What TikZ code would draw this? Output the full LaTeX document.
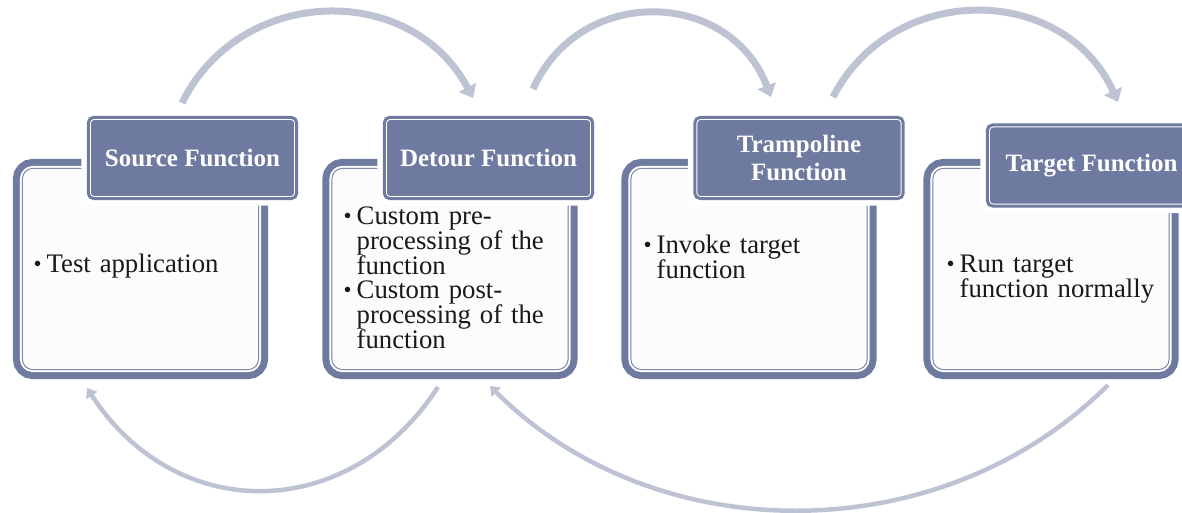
\documentclass[tikz,border=0pt]{standalone}
\usepackage{fontspec}
\setmainfont{Liberation Serif}
\usetikzlibrary{arrows.meta}

\definecolor{stageblue}{HTML}{6F7AA0}
\definecolor{flowgray}{HTML}{BEC3D4}

\newcommand{\bodyfont}{\fontsize{7.6}{7}\selectfont}
\newcommand{\headfont}{\fontsize{7.1}{7.7}\selectfont\bfseries}
% bullet line with hanging indent, breaks by \newline
\newcommand{\itemdot}[1]{\hangindent=0.13cm\hangafter=1\noindent
    \makebox[0.13cm][l]{\raisebox{0.4pt}{\fontsize{6.5}{7}\selectfont\textbullet}}#1\par}

\begin{document}
\begin{tikzpicture}[x=0.01cm, y=-0.01cm,   % one unit = one pixel, y down
    stagebox/.style={
        rectangle, rounded corners=0.1cm,
        minimum width=2.35cm, minimum height=2cm,
        preaction={draw=stageblue, line width=0.2cm},
        preaction={draw=white, line width=0.06cm},
        preaction={draw=stageblue, line width=0.02cm},
        fill=black!1
    },
    stagehead/.style={
        rectangle, rounded corners=0.05cm,
        minimum width=2.08cm, minimum height=0.81cm, inner sep=0pt,
        preaction={draw=white, line width=0.14cm},
        fill=stageblue, draw=white, line width=0.05cm,
        postaction={draw=stageblue, line width=0.03cm},
        text=white, font=\headfont, align=center
    },
    stagetext/.style={
        anchor=base west, inner sep=0pt, text width=2.3cm,
        align=left, font=\bodyfont, text=black!90
    },
    toparrow/.style={
        draw=flowgray, line width=0.07cm,
        -{Triangle[length=0.12cm, width=0.19cm]}
    },
    backarrow/.style={
        draw=flowgray, line width=0.045cm,
        -{Triangle[length=0.09cm, width=0.13cm]}
    }
]
    \useasboundingbox (0,0) rectangle (1182,513);

    % 1. Source
    \node [stagebox] (srcbox) at (140.5,269) {};
    \node [stagehead] (srchead) at (192.5,158) {Source Function};
    \node [stagetext] (srctext) at (33,273) {\itemdot{Test application}};

    % 2. Detour
    \node [stagebox] (detbox) at (450,269) {};
    \node [stagehead] (dethead) at (488.5,158) {Detour Function};
    \node [stagetext] (dettext) at (343,225) {%
        \itemdot{Custom pre-\newline processing of the\newline function}%
        \itemdot{Custom post-\newline processing of the\newline function}};

    % 3. Trampoline
    \node [stagebox] (trabox) at (749,269) {};
    \node [stagehead] (trahead) at (799,158) {Trampoline\\Function};
    \node [stagetext] (tratext) at (643,254) {\itemdot{Invoke target\newline function}};

    % 4. Target
    \node [stagebox] (tarbox) at (1051,269) {};
    \node [stagehead] (tarhead) at (1091.5,165.5) {Target Function};
    \node [stagetext] (tartext) at (946,273) {\itemdot{Run target\newline function normally}};

    % arrow ends
    \coordinate (srcout) at (182,103);
    \coordinate (detin)  at (473,98);
    \coordinate (detout) at (533,89);
    \coordinate (train)  at (771,97);
    \coordinate (traout) at (833,97);
    \coordinate (tarin)  at (1118,102);
    \coordinate (tarback) at (1108,385);
    \coordinate (detback) at (490,386);
    \coordinate (detret)  at (438,387);
    \coordinate (srcret)  at (87,388);

    % calls, over the top
    \draw [toparrow] (srcout) .. controls (240,-15) and (411,-19) .. (detin);
    \draw [toparrow] (detout) .. controls (580,-16) and (730,-11) .. (train);
    \draw [toparrow] (traout) .. controls (893,-19) and (1064,-17) .. (tarin);

    % returns, underneath
    \draw [backarrow] (tarback) .. controls (942,551) and (656,552) .. (detback);
    \draw [backarrow] (detret) .. controls (349,524) and (176,525) .. (srcret);

\end{tikzpicture}
\end{document}
